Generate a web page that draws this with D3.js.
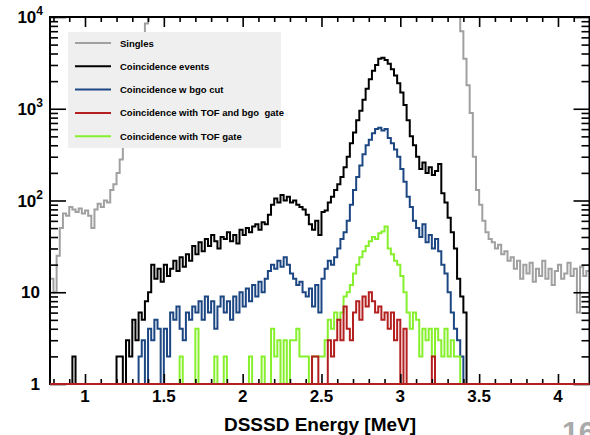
<!DOCTYPE html>
<html>
<head>
<meta charset="utf-8">
<script src="https://cdn.jsdelivr.net/npm/d3@7"></script>
<style>
  body { margin: 0; background: #fff; }
  svg { display: block; }
  text { font-family: "Liberation Sans", Arial, Helvetica, sans-serif; font-weight: bold; white-space: pre; }
</style>
</head>
<body>
<script>
// histogram binning (MeV)
const binWidth = 0.02

// singles, starts at 0.78 MeV
const singlesStart = 0.78
const singles = [14, 10, 25, 50, 72, 68, 85, 80, 75, 82, 72, 78, 68, 50, 80, 92, 85, 100, 95, 130,
  150, 200, 280, 500, 800, 1300, 2000, 3200, 4800, 6500, 8500, 12000,
  16000, 19000, 22000, 24000, 26000, 27000, 28000, 29000, 30000, 31000,
  32000, 33000, 34000, 35000, 36000, 38000, 40000, 42000, 44000, 46000,
  48000, 50000, 52000, 54000, 56000, 58000, 60000, 62000, 64000, 66000,
  68000, 70000, 73000, 76000, 80000, 85000, 90000, 96000, 100000, 105000,
  110000, 112000, 114000, 112000, 110000, 106000, 102000, 98000, 95000, 92000,
  90000, 92000, 95000, 100000, 110000, 125000, 140000, 160000, 185000, 210000,
  240000, 270000, 300000, 330000, 360000, 390000, 410000, 430000, 440000, 450000,
  455000, 450000, 440000, 420000, 400000, 370000, 340000, 300000, 260000, 220000,
  180000, 150000, 120000, 95000, 75000, 60000, 50000, 42000, 36000, 32000,
  28000, 25000, 22000, 20000, 18000, 16000, 14000, 12000,
  7000, 3500, 1800, 900, 300, 130, 90, 60, 45, 38, 35, 30, 33, 26, 28, 22, 24, 18, 22, 14,
  20, 16, 21, 13, 18, 15, 22, 14, 18, 12, 17, 20, 14, 16, 21, 15, 18, 6, 19, 15, 17]

// coincidence events, starts at 0.92 MeV
const coincStart = 0.92
const coinc = [2, 0, 0, 0, 0, 0, 0, 0, 0, 0, 0, 0, 0, 0, 2, 2, 1, 3, 2, 5, 3, 6, 5, 8, 10,
  20, 14, 18, 13, 20, 15, 18, 22, 17, 24, 19, 26, 22, 32, 26, 35, 28, 38, 32, 42, 36, 30, 40, 38, 45,
  36, 42, 34, 48, 42, 50, 45, 52, 55, 48, 58, 55, 70, 90, 105, 95, 115, 100, 110, 95,
  100, 90, 85, 80, 70, 55, 48, 60, 42, 75, 78, 95, 110, 130, 150, 180, 230, 300, 420, 550,
  750, 950, 1250, 1650, 2100, 2600, 3000, 3500, 3600, 3400, 3100, 2700, 2300, 1900, 1500, 1100, 750, 500, 400, 300,
  220, 260, 200, 230, 190, 210, 250, 120, 95, 65, 45, 30, 14, 9, 6]

// coincidence with bgo cut, starts at 1.34 MeV
const bgoStart = 1.34
const bgo = [2, 3, 0, 4, 3, 5, 4, 1, 4, 2, 6, 5, 7, 4, 3, 6, 5, 7, 6, 8, 5, 9, 6, 8, 4, 7, 9, 6, 8, 5,
  9, 6, 10, 7, 11, 8, 12, 9, 13, 10, 14, 17, 20, 18, 22, 19, 24, 20, 16, 14, 12, 13, 10, 9, 11, 7, 12, 6, 14, 18,
  22, 20, 24, 30, 38, 45, 60, 90, 130, 180, 240, 320, 400, 460, 540, 600, 620, 580, 600, 480,
  420, 360, 300, 220, 160, 110, 85, 60, 50, 40, 55, 35, 42, 30, 38, 28, 20, 16, 10, 6, 4, 3, 2]

// coincidence with TOF gate, starts at 1.60 MeV
const tofStart = 1.60
const tof = [2, 0, 0, 0, 0, 4, 0, 0, 0, 0, 0, 2, 0, 0, 2, 0, 0, 0, 0, 0, 0, 0, 2, 0, 0, 0, 2, 0, 0,
  4, 2, 3, 0, 3, 0, 3, 3, 4, 2, 2, 2, 0, 2, 2, 2, 2, 3, 5, 4, 6, 5, 6, 9, 10, 12, 16, 20, 24, 28, 32,
  36, 40, 38, 44, 46, 52, 30, 26, 22, 20, 15, 10, 6, 4, 6, 5, 2, 4, 3, 4, 2, 4, 3, 2, 4, 2, 3, 2, 2]

// coincidence with TOF and bgo gate, starts at 2.44 MeV
const tofBgoStart = 2.44
const tofBgo = [2, 2, 0, 0, 0, 3, 2, 3, 5, 3, 7, 4, 3, 6, 8, 5, 9, 7, 10, 8, 6, 7, 5, 6, 4, 6, 3, 5,
  0, 4, 0, 0, 0, 0, 0, 0, 0, 0, 2]

const legendLabels = ["Singles", "Coincidence events", "Coincidence w bgo cut",
  "Coincidence with TOF and bgo  gate", "Coincidence with TOF gate"]
const xTickLabels = [1, 1.5, 2, 2.5, 3, 3.5, 4]
const yTickLabels = [1, 10, 100, 1000, 10000]

const w = 590
const h = 435
const padL = 50, padR = 589.5, padT = 17, padB = 384

const svg = d3.select("body").append("svg")
  .attr("width", w)
  .attr("height", h)

const xScale = d3.scaleLinear().domain([0.778, 4.2]).range([padL, padR])
const yScale = d3.scaleLog().domain([1, 10000]).range([padB, padT])

svg.append("clipPath").attr("id", "plot")
  .append("rect")
  .attr("x", padL).attr("y", padT)
  .attr("width", padR - padL).attr("height", padB - padT)

// turn a bin array into step points across the whole axis range
function steps(start, values) {
  const pts = []
  const first = Math.round((start - 0.78) / binWidth)
  const nBins = Math.round((4.2 - 0.78) / binWidth)
  for (let k = 0; k < nBins; k++) {
    const i = k - first
    const v = (i >= 0 && i < values.length) ? values[i] : 0
    pts.push([0.78 + k * binWidth, v])
  }
  pts.push([4.2, pts[pts.length - 1][1]])
  return pts
}

const line = d3.line()
  .x(d => xScale(d[0]))
  .y(d => yScale(Math.max(1, d[1])))
  .curve(d3.curveStepAfter)

const series = [
  { data: steps(singlesStart, singles), color: "#a0a0a0" },
  { data: steps(coincStart, coinc), color: "#000000" },
  { data: steps(bgoStart, bgo), color: "#1d4783" },
  { data: steps(tofStart, tof), color: "#86f02c" },
  { data: steps(tofBgoStart, tofBgo), color: "#b41f1f" }
]
const legendColors = ["#a0a0a0", "#000000", "#1d4783", "#b41f1f", "#86f02c"]

const plot = svg.append("g").attr("clip-path", "url(#plot)")
plot.selectAll("path")
  .data(series)
  .enter()
  .append("path")
  .attr("d", d => line(d.data))
  .attr("fill", "none")
  .attr("stroke", d => d.color)
  .attr("stroke-width", 2)

// axes: ticks point inward, on all four sides
const xMajor = d3.range(1, 4.01, 0.5)
const xMinor = d3.range(0.8, 4.21, 0.1).filter(v => Math.abs(v * 2 - Math.round(v * 2)) > 0.01)
const yMajor = yTickLabels
const yMinor = []
for (let dec = 1; dec < 10000; dec *= 10) for (let m = 2; m < 10; m++) yMinor.push(dec * m)

function tickAxis(axis, transform) {
  const g = svg.append("g").attr("transform", transform).call(axis.tickFormat("").tickSizeOuter(0))
  g.select(".domain").remove()
  g.selectAll("line").attr("stroke", "#000").attr("stroke-width", 1.6)
}
tickAxis(d3.axisBottom(xScale).tickValues(xMajor).tickSize(-10), `translate(0,${padB})`)
tickAxis(d3.axisBottom(xScale).tickValues(xMinor).tickSize(-5), `translate(0,${padB})`)
tickAxis(d3.axisTop(xScale).tickValues(xMajor).tickSize(-10), `translate(0,${padT})`)
tickAxis(d3.axisTop(xScale).tickValues(xMinor).tickSize(-5), `translate(0,${padT})`)
tickAxis(d3.axisLeft(yScale).tickValues(yMajor).tickSize(-16), `translate(${padL},0)`)
tickAxis(d3.axisLeft(yScale).tickValues(yMinor).tickSize(-8), `translate(${padL},0)`)
tickAxis(d3.axisRight(yScale).tickValues(yMajor).tickSize(-16), `translate(${padR},0)`)
tickAxis(d3.axisRight(yScale).tickValues(yMinor).tickSize(-8), `translate(${padR},0)`)

// frame
svg.append("rect")
  .attr("x", padL).attr("y", padT)
  .attr("width", padR - padL).attr("height", padB - padT)
  .attr("fill", "none")
  .attr("stroke", "#000")
  .attr("stroke-width", 2)

// red zero level sits on the bottom axis
svg.append("path")
  .attr("d", line([[0.778, 0], [4.2, 0]]))
  .attr("stroke", "#b41f1f")
  .attr("stroke-width", 2)

// tick labels
svg.selectAll(".xlab")
  .data(xTickLabels)
  .enter()
  .append("text")
  .attr("x", d => xScale(d))
  .attr("y", 402)
  .attr("text-anchor", "middle")
  .attr("font-size", 17)
  .text(d => d)

yTickLabels.forEach(d => {
  const p = Math.round(Math.log10(d))
  const t = svg.append("text")
    .attr("y", yScale(d) + 6)
    .attr("text-anchor", "end")
    .attr("font-size", 17)
  if (p < 2) {
    t.attr("x", 40).text(d)
  } else {
    t.attr("x", 43)
    t.append("tspan").text("10")
    t.append("tspan").attr("dy", -8).attr("font-size", 12).text(p)
  }
})

svg.append("text")
  .attr("x", 320)
  .attr("y", 431)
  .attr("text-anchor", "middle")
  .attr("font-size", 19)
  .text("DSSSD Energy [MeV]")

// legend (opaque, drawn on top)
const legend = svg.append("g")
legend.append("rect")
  .attr("x", 68).attr("y", 32)
  .attr("width", 213).attr("height", 116)
  .attr("fill", "#efefef")
legendLabels.forEach((lab, i) => {
  const y = 43 + i * 23.3
  legend.append("line")
    .attr("x1", 75).attr("x2", 111)
    .attr("y1", y).attr("y2", y)
    .attr("stroke", legendColors[i])
    .attr("stroke-width", 2)
  legend.append("text")
    .attr("x", 120).attr("y", y + 3.5)
    .attr("font-size", 9.5)
    .text(lab)
})

// page number, cut at the corner as in the source picture
svg.append("text")
  .attr("x", 562)
  .attr("y", 442)
  .attr("font-size", 30)
  .attr("font-weight", "normal")
  .attr("fill", "#aaaaaa")
  .text("16")
</script>
</body>
</html>
